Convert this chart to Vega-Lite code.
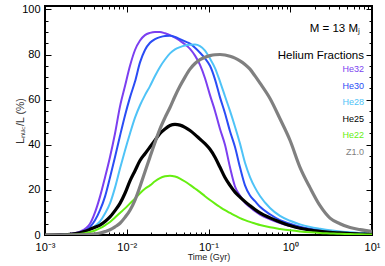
{
"$schema": "https://vega.github.io/schema/vega-lite/v6.json",
"width": 327, "height": 229,
"autosize": "none",
"padding": {"left": 45, "top": 6, "right": 13, "bottom": 31},
"background": "white",
"config": {"view": {"stroke": "black", "strokeWidth": 2}, "font": "Liberation Sans"},
"title": {"text": "M = 13 Mⱼ", "orient": "top", "anchor": "end", "frame": "group", "offset": -31, "dx": -12, "fontSize": 11.5, "fontWeight": "normal", "color": "black"},
"data": {"values": [
{"s":"He32","t":0.001,"y":0},{"s":"He32","t":0.001526,"y":0.1},{"s":"He32","t":0.002021,"y":0.5},{"s":"He32","t":0.00268,"y":1.5},{"s":"He32","t":0.003552,"y":5},{"s":"He32","t":0.004089,"y":10},{"s":"He32","t":0.004709,"y":17},{"s":"He32","t":0.005419,"y":25.5},{"s":"He32","t":0.00624,"y":34.6},{"s":"He32","t":0.007185,"y":45},{"s":"He32","t":0.008271,"y":57},{"s":"He32","t":0.009519,"y":66},{"s":"He32","t":0.01096,"y":75},{"s":"He32","t":0.01262,"y":82},{"s":"He32","t":0.01453,"y":86.2},{"s":"He32","t":0.01671,"y":88.6},{"s":"He32","t":0.01925,"y":89.6},{"s":"He32","t":0.02216,"y":90},{"s":"He32","t":0.02551,"y":90},{"s":"He32","t":0.02937,"y":89.4},{"s":"He32","t":0.03381,"y":88.6},{"s":"He32","t":0.03893,"y":87.5},{"s":"He32","t":0.04482,"y":86.1},{"s":"He32","t":0.05161,"y":84.5},{"s":"He32","t":0.0594,"y":82.5},{"s":"He32","t":0.06839,"y":79.5},{"s":"He32","t":0.0787,"y":75.4},{"s":"He32","t":0.09062,"y":69.5},{"s":"He32","t":0.1043,"y":62},{"s":"He32","t":0.1201,"y":55},{"s":"He32","t":0.1383,"y":47},{"s":"He32","t":0.1591,"y":40},{"s":"He32","t":0.1832,"y":30},{"s":"He32","t":0.211,"y":21.5},{"s":"He32","t":0.2428,"y":17.5},{"s":"He32","t":0.2796,"y":14.2},{"s":"He32","t":0.3219,"y":12.3},{"s":"He32","t":0.3705,"y":10.5},{"s":"He32","t":0.4266,"y":9},{"s":"He32","t":0.5653,"y":7},{"s":"He32","t":0.7491,"y":5.3},{"s":"He32","t":0.9929,"y":4},{"s":"He32","t":1.316,"y":3},{"s":"He32","t":1.744,"y":2.3},{"s":"He32","t":2.312,"y":1.8},{"s":"He32","t":3.064,"y":1.4},{"s":"He32","t":4.06,"y":1.1},{"s":"He32","t":5.381,"y":0.8},{"s":"He32","t":7.134,"y":0.6},{"s":"He32","t":10,"y":0.4},
{"s":"He30","t":0.001,"y":0},{"s":"He30","t":0.001526,"y":0.05},{"s":"He30","t":0.002021,"y":0.3},{"s":"He30","t":0.00268,"y":1.0},{"s":"He30","t":0.003552,"y":3.5},{"s":"He30","t":0.004089,"y":6.5},{"s":"He30","t":0.004709,"y":11},{"s":"He30","t":0.005419,"y":17},{"s":"He30","t":0.00624,"y":25.5},{"s":"He30","t":0.007185,"y":34.6},{"s":"He30","t":0.008271,"y":44},{"s":"He30","t":0.009519,"y":53},{"s":"He30","t":0.01096,"y":61},{"s":"He30","t":0.01262,"y":68},{"s":"He30","t":0.01453,"y":76.5},{"s":"He30","t":0.01671,"y":82},{"s":"He30","t":0.01925,"y":85.2},{"s":"He30","t":0.02216,"y":86.8},{"s":"He30","t":0.02551,"y":87.7},{"s":"He30","t":0.02937,"y":88.2},{"s":"He30","t":0.03381,"y":88.3},{"s":"He30","t":0.03893,"y":87.8},{"s":"He30","t":0.04482,"y":86.8},{"s":"He30","t":0.05161,"y":85.8},{"s":"He30","t":0.0594,"y":84.8},{"s":"He30","t":0.06839,"y":83},{"s":"He30","t":0.0787,"y":80.8},{"s":"He30","t":0.09062,"y":78.3},{"s":"He30","t":0.1043,"y":75},{"s":"He30","t":0.1201,"y":69},{"s":"He30","t":0.1383,"y":61},{"s":"He30","t":0.1591,"y":54},{"s":"He30","t":0.1832,"y":46},{"s":"He30","t":0.211,"y":39},{"s":"He30","t":0.2428,"y":30},{"s":"He30","t":0.2796,"y":22},{"s":"He30","t":0.3219,"y":17.5},{"s":"He30","t":0.3705,"y":15},{"s":"He30","t":0.4266,"y":12.5},{"s":"He30","t":0.5653,"y":9.2},{"s":"He30","t":0.7491,"y":6.6},{"s":"He30","t":0.9929,"y":5},{"s":"He30","t":1.316,"y":3.7},{"s":"He30","t":1.744,"y":2.8},{"s":"He30","t":2.312,"y":2.1},{"s":"He30","t":3.064,"y":1.6},{"s":"He30","t":4.06,"y":1.2},{"s":"He30","t":5.381,"y":0.9},{"s":"He30","t":7.134,"y":0.7},{"s":"He30","t":10,"y":0.5},
{"s":"He28","t":0.001,"y":0},{"s":"He28","t":0.001526,"y":0.03},{"s":"He28","t":0.002021,"y":0.2},{"s":"He28","t":0.00268,"y":0.7},{"s":"He28","t":0.003552,"y":2.3},{"s":"He28","t":0.004089,"y":4},{"s":"He28","t":0.004709,"y":6},{"s":"He28","t":0.005419,"y":9.5},{"s":"He28","t":0.00624,"y":14},{"s":"He28","t":0.007185,"y":21},{"s":"He28","t":0.008271,"y":29.5},{"s":"He28","t":0.009519,"y":37.5},{"s":"He28","t":0.01096,"y":45},{"s":"He28","t":0.01262,"y":52},{"s":"He28","t":0.01453,"y":57.5},{"s":"He28","t":0.01671,"y":62},{"s":"He28","t":0.01925,"y":66},{"s":"He28","t":0.02216,"y":70.5},{"s":"He28","t":0.02551,"y":74.5},{"s":"He28","t":0.02937,"y":77.8},{"s":"He28","t":0.03381,"y":80.5},{"s":"He28","t":0.03893,"y":82.3},{"s":"He28","t":0.04482,"y":83.3},{"s":"He28","t":0.05161,"y":84},{"s":"He28","t":0.0594,"y":84.3},{"s":"He28","t":0.06839,"y":84.4},{"s":"He28","t":0.0787,"y":83.7},{"s":"He28","t":0.09062,"y":81.7},{"s":"He28","t":0.1043,"y":78.2},{"s":"He28","t":0.1201,"y":74},{"s":"He28","t":0.1383,"y":68},{"s":"He28","t":0.1591,"y":61.5},{"s":"He28","t":0.1832,"y":55},{"s":"He28","t":0.211,"y":48},{"s":"He28","t":0.2428,"y":40.5},{"s":"He28","t":0.2796,"y":32},{"s":"He28","t":0.3219,"y":25.7},{"s":"He28","t":0.3705,"y":21},{"s":"He28","t":0.4266,"y":17.3},{"s":"He28","t":0.5653,"y":12},{"s":"He28","t":0.7491,"y":8.5},{"s":"He28","t":0.9929,"y":6.3},{"s":"He28","t":1.316,"y":4.7},{"s":"He28","t":1.744,"y":3.6},{"s":"He28","t":2.312,"y":2.8},{"s":"He28","t":3.064,"y":2.1},{"s":"He28","t":4.06,"y":1.6},{"s":"He28","t":5.381,"y":1.2},{"s":"He28","t":7.134,"y":0.9},{"s":"He28","t":10,"y":0.6},
{"s":"He25","t":0.001,"y":0},{"s":"He25","t":0.001526,"y":0.05},{"s":"He25","t":0.002021,"y":0.3},{"s":"He25","t":0.00268,"y":1},{"s":"He25","t":0.003552,"y":2.5},{"s":"He25","t":0.004089,"y":3.4},{"s":"He25","t":0.004709,"y":4.4},{"s":"He25","t":0.005419,"y":6},{"s":"He25","t":0.00624,"y":8},{"s":"He25","t":0.007185,"y":10.8},{"s":"He25","t":0.008271,"y":14},{"s":"He25","t":0.009519,"y":18.5},{"s":"He25","t":0.01096,"y":24},{"s":"He25","t":0.01262,"y":28.5},{"s":"He25","t":0.01453,"y":33},{"s":"He25","t":0.01671,"y":36},{"s":"He25","t":0.01925,"y":39},{"s":"He25","t":0.02216,"y":42},{"s":"He25","t":0.02551,"y":45},{"s":"He25","t":0.02937,"y":47},{"s":"He25","t":0.03381,"y":48.5},{"s":"He25","t":0.03893,"y":49},{"s":"He25","t":0.04482,"y":48.7},{"s":"He25","t":0.05161,"y":47.7},{"s":"He25","t":0.0594,"y":46.3},{"s":"He25","t":0.06839,"y":44.5},{"s":"He25","t":0.0787,"y":42.5},{"s":"He25","t":0.09062,"y":40.5},{"s":"He25","t":0.1043,"y":38},{"s":"He25","t":0.1201,"y":34.5},{"s":"He25","t":0.1383,"y":30},{"s":"He25","t":0.1591,"y":25.5},{"s":"He25","t":0.1832,"y":22},{"s":"He25","t":0.211,"y":19},{"s":"He25","t":0.2428,"y":16.8},{"s":"He25","t":0.2796,"y":14.8},{"s":"He25","t":0.3219,"y":13},{"s":"He25","t":0.3705,"y":11.3},{"s":"He25","t":0.4266,"y":9.8},{"s":"He25","t":0.5653,"y":7.6},{"s":"He25","t":0.7491,"y":5.8},{"s":"He25","t":0.9929,"y":4.2},{"s":"He25","t":1.316,"y":3},{"s":"He25","t":1.744,"y":2.2},{"s":"He25","t":2.312,"y":1.6},{"s":"He25","t":3.064,"y":1.2},{"s":"He25","t":4.06,"y":0.9},{"s":"He25","t":5.381,"y":0.6},{"s":"He25","t":7.134,"y":0.45},{"s":"He25","t":10,"y":0.3},
{"s":"He22","t":0.001,"y":0},{"s":"He22","t":0.001526,"y":0.02},{"s":"He22","t":0.002021,"y":0.1},{"s":"He22","t":0.00268,"y":0.4},{"s":"He22","t":0.003552,"y":1.3},{"s":"He22","t":0.004089,"y":2},{"s":"He22","t":0.004709,"y":3},{"s":"He22","t":0.005419,"y":4.3},{"s":"He22","t":0.00624,"y":5.8},{"s":"He22","t":0.007185,"y":7.8},{"s":"He22","t":0.008271,"y":9.8},{"s":"He22","t":0.009519,"y":11.8},{"s":"He22","t":0.01096,"y":14},{"s":"He22","t":0.01262,"y":16.2},{"s":"He22","t":0.01453,"y":18.5},{"s":"He22","t":0.01671,"y":20.5},{"s":"He22","t":0.01925,"y":22},{"s":"He22","t":0.02216,"y":23.8},{"s":"He22","t":0.02551,"y":25.2},{"s":"He22","t":0.02937,"y":26},{"s":"He22","t":0.03381,"y":26.3},{"s":"He22","t":0.03893,"y":25.9},{"s":"He22","t":0.04482,"y":25},{"s":"He22","t":0.05161,"y":23.7},{"s":"He22","t":0.0594,"y":22.2},{"s":"He22","t":0.06839,"y":20.6},{"s":"He22","t":0.0787,"y":19},{"s":"He22","t":0.09062,"y":17.2},{"s":"He22","t":0.1043,"y":15.5},{"s":"He22","t":0.1201,"y":13.9},{"s":"He22","t":0.1383,"y":12.4},{"s":"He22","t":0.1591,"y":11},{"s":"He22","t":0.1832,"y":9.8},{"s":"He22","t":0.211,"y":8.6},{"s":"He22","t":0.2428,"y":7.5},{"s":"He22","t":0.2796,"y":6.6},{"s":"He22","t":0.3219,"y":5.8},{"s":"He22","t":0.3705,"y":5.1},{"s":"He22","t":0.4266,"y":4.4},{"s":"He22","t":0.5653,"y":3.4},{"s":"He22","t":0.7491,"y":2.7},{"s":"He22","t":0.9929,"y":2.1},{"s":"He22","t":1.316,"y":1.6},{"s":"He22","t":1.744,"y":1.2},{"s":"He22","t":2.312,"y":0.9},{"s":"He22","t":3.064,"y":0.7},{"s":"He22","t":4.06,"y":0.5},{"s":"He22","t":5.381,"y":0.4},{"s":"He22","t":7.134,"y":0.3},{"s":"He22","t":10,"y":0.2},
{"s":"Z1.0","t":0.001,"y":0},{"s":"Z1.0","t":0.001526,"y":0},{"s":"Z1.0","t":0.002021,"y":0.02},{"s":"Z1.0","t":0.00268,"y":0.1},{"s":"Z1.0","t":0.003552,"y":0.3},{"s":"Z1.0","t":0.004089,"y":0.5},{"s":"Z1.0","t":0.004709,"y":0.9},{"s":"Z1.0","t":0.005419,"y":1.5},{"s":"Z1.0","t":0.00624,"y":2.3},{"s":"Z1.0","t":0.007185,"y":3.6},{"s":"Z1.0","t":0.008271,"y":5.2},{"s":"Z1.0","t":0.009519,"y":7.8},{"s":"Z1.0","t":0.01096,"y":11},{"s":"Z1.0","t":0.01262,"y":15.5},{"s":"Z1.0","t":0.01453,"y":21.5},{"s":"Z1.0","t":0.01671,"y":28},{"s":"Z1.0","t":0.01925,"y":34.6},{"s":"Z1.0","t":0.02216,"y":41},{"s":"Z1.0","t":0.02551,"y":47},{"s":"Z1.0","t":0.02937,"y":52},{"s":"Z1.0","t":0.03381,"y":56.5},{"s":"Z1.0","t":0.03893,"y":61.5},{"s":"Z1.0","t":0.04482,"y":66},{"s":"Z1.0","t":0.05161,"y":70},{"s":"Z1.0","t":0.0594,"y":73.5},{"s":"Z1.0","t":0.06839,"y":76},{"s":"Z1.0","t":0.0787,"y":77.7},{"s":"Z1.0","t":0.09062,"y":78.8},{"s":"Z1.0","t":0.1043,"y":79.5},{"s":"Z1.0","t":0.1201,"y":79.9},{"s":"Z1.0","t":0.1383,"y":80},{"s":"Z1.0","t":0.1591,"y":79.8},{"s":"Z1.0","t":0.1832,"y":79.2},{"s":"Z1.0","t":0.211,"y":78.4},{"s":"Z1.0","t":0.2428,"y":77.2},{"s":"Z1.0","t":0.2796,"y":75.6},{"s":"Z1.0","t":0.3219,"y":73.5},{"s":"Z1.0","t":0.3705,"y":70.5},{"s":"Z1.0","t":0.4266,"y":67.3},{"s":"Z1.0","t":0.5653,"y":60.5},{"s":"Z1.0","t":0.7491,"y":51.5},{"s":"Z1.0","t":0.9929,"y":42},{"s":"Z1.0","t":1.316,"y":30},{"s":"Z1.0","t":1.744,"y":21},{"s":"Z1.0","t":2.312,"y":13},{"s":"Z1.0","t":3.064,"y":7.5},{"s":"Z1.0","t":4.06,"y":5},{"s":"Z1.0","t":5.381,"y":3.3},{"s":"Z1.0","t":7.134,"y":2.4},{"s":"Z1.0","t":10,"y":1.6}
]},
"layer": [
{
"mark": {"type": "line", "clip": true, "interpolate": "monotone"},
"encoding": {
"x": {"field": "t", "type": "quantitative",
 "scale": {"type": "log", "domain": [0.001, 10], "nice": false},
 "axis": {"orient": "bottom", "title": "Time (Gyr)", "titleFontSize": 9, "titleFontWeight": "normal", "titleColor": "#222", "titlePadding": -3,
  "values": [0.001,0.002,0.003,0.004,0.005,0.006,0.007,0.008,0.009,0.01,0.02,0.03,0.04,0.05,0.06,0.07,0.08,0.09,0.1,0.2,0.3,0.4,0.5,0.6,0.7,0.8,0.9,1,2,3,4,5,6,7,8,9,10],
  "labelExpr": "datum.value == 0.001 ? '10⁻³' : datum.value == 0.01 ? '10⁻²' : datum.value == 0.1 ? '10⁻¹' : datum.value == 1 ? '10⁰' : datum.value == 10 ? '10¹' : ''",
  "labelFontSize": 11, "labelColor": "black", "labelFlush": false, "labelOverlap": false, "labelBound": false, "labelPadding": 12,
  "tickSize": {"condition": {"test": "indexof([0.001,0.01,0.1,1,10], datum.value) >= 0", "value": -6}, "value": -3},
  "tickColor": "black", "tickWidth": 1, "domain": false, "grid": false}},
"y": {"field": "y", "type": "quantitative",
 "scale": {"domain": [0, 101.5], "nice": false},
 "axis": {"orient": "left", "title": "Lₙᵤ꜀/L (%)", "titleFontSize": 10.5, "titleFontWeight": "normal", "titleColor": "#333", "titlePadding": -4,
  "values": [0,5,10,15,20,25,30,35,40,45,50,55,60,65,70,75,80,85,90,95,100],
  "labelExpr": "datum.value % 20 == 0 ? datum.label : ''",
  "labelFontSize": 11, "labelColor": "black", "labelFlush": false, "labelOverlap": false, "labelBound": false, "labelPadding": 11,
  "tickSize": {"condition": {"test": "datum.value % 20 == 0", "value": -6}, "value": -3},
  "tickColor": "black", "tickWidth": 1, "domain": false, "grid": false}},
"color": {"field": "s", "type": "nominal", "sort": null,
 "scale": {"domain": ["He32","He30","He28","He25","He22","Z1.0"], "range": ["#7b3ff0","#2a4cf5","#4fc3f7","#000000","#66ee11","#808080"]},
 "legend": {"orient": "none", "legendX": 233, "legendY": 44,
  "title": "Helium Fractions", "titleFontSize": 11.5, "titleFontWeight": "normal", "titleColor": "black",
  "titleAlign": "right", "titleAnchor": "end", "titlePadding": 3,
  "labelFontSize": 9, "labelAlign": "right", "symbolOpacity": 0, "symbolSize": 1, "symbolStrokeWidth": 0, "rowPadding": 6.6,
  "encode": {"labels": {"update": {"fill": {"scale": "color", "field": "value"}}}}}},
"strokeWidth": {"condition": {"test": "datum.s == 'He25' || datum.s == 'Z1.0'", "value": 3.2}, "value": 2}
}
},
{
"mark": {"type": "line", "opacity": 0},
"encoding": {
"x": {"field": "t", "type": "quantitative",
 "scale": {"type": "log", "domain": [0.001, 10], "nice": false},
 "axis": {"orient": "top", "title": null, "labels": false,
  "values": [0.001,0.002,0.003,0.004,0.005,0.006,0.007,0.008,0.009,0.01,0.02,0.03,0.04,0.05,0.06,0.07,0.08,0.09,0.1,0.2,0.3,0.4,0.5,0.6,0.7,0.8,0.9,1,2,3,4,5,6,7,8,9,10],
  "tickSize": {"condition": {"test": "indexof([0.001,0.01,0.1,1,10], datum.value) >= 0", "value": -6}, "value": -3},
  "tickColor": "black", "tickWidth": 1, "domain": false, "grid": false}},
"y": {"field": "y", "type": "quantitative",
 "scale": {"domain": [0, 101.5], "nice": false},
 "axis": {"orient": "right", "title": null, "labels": false,
  "values": [0,5,10,15,20,25,30,35,40,45,50,55,60,65,70,75,80,85,90,95,100],
  "tickSize": {"condition": {"test": "datum.value % 20 == 0", "value": -6}, "value": -3},
  "tickColor": "black", "tickWidth": 1, "domain": false, "grid": false}},
"detail": {"field": "s"}
}
}
],
"resolve": {"axis": {"x": "independent", "y": "independent"}}
}
